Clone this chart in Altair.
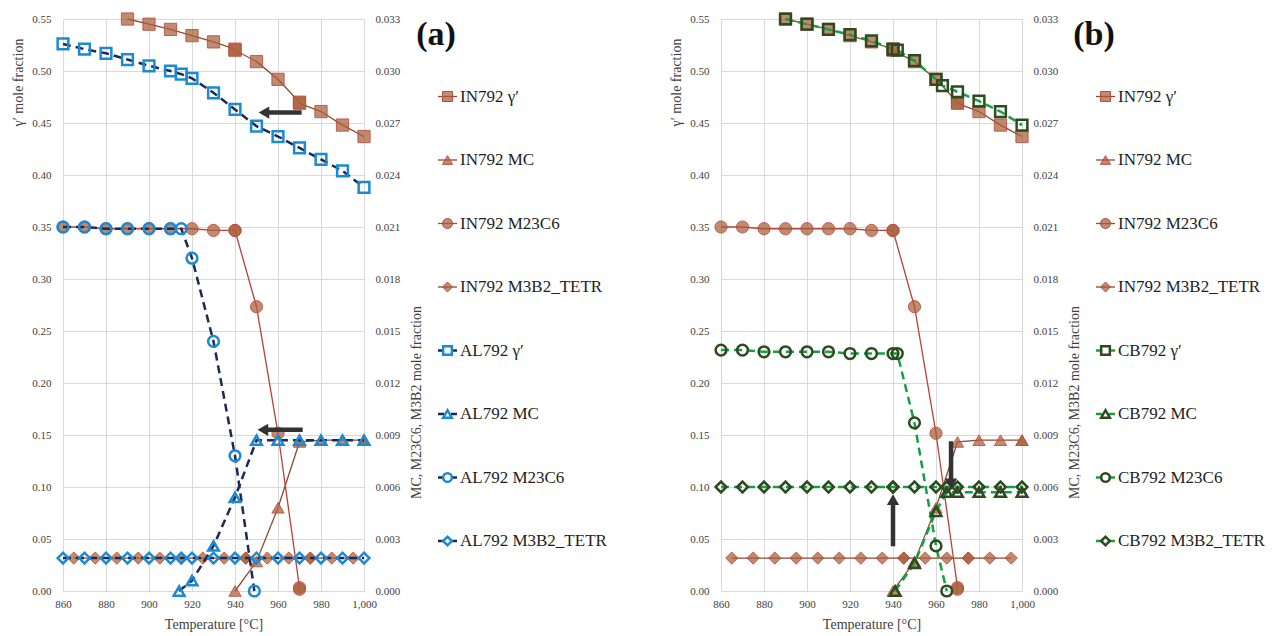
import altair as alt
import pandas as pd

FONT = "Liberation Serif"

# ---------------- axis ticks ----------------
TEMP_TICKS = [860, 880, 900, 920, 940, 960, 980, 1000]
LEFT_TICKS = [0.00, 0.05, 0.10, 0.15, 0.20, 0.25, 0.30, 0.35, 0.40, 0.45, 0.50, 0.55]
RIGHT_TICKS = [0.000, 0.003, 0.006, 0.009, 0.012, 0.015, 0.018, 0.021, 0.024, 0.027, 0.030, 0.033]

PHASES = ["γ′", "MC", "M23C6", "M3B2_TETR"]

# ---------------- IN792 (both panels) ----------------
IN_GP_T = [890, 900, 910, 920, 930, 940, 940, 950, 960, 970, 970, 980, 990, 1000]
IN_GP_V = [0.550, 0.545, 0.540, 0.534, 0.528, 0.521, 0.520, 0.509, 0.492, 0.470, 0.469, 0.461, 0.448, 0.437]
IN_MC_T = [940, 950, 960, 970, 980, 990, 1000, 1000]
IN_MC_V = [0.0000, 0.0017, 0.0048, 0.0086, 0.0087, 0.0087, 0.0087, 0.0087]
IN_M23_T = [860, 870, 880, 890, 900, 910, 920, 930, 940, 940, 950, 960, 970, 970]
IN_M23_V = [0.0210, 0.0210, 0.0209, 0.0209, 0.0209, 0.0209, 0.0209, 0.0208, 0.0208, 0.0208, 0.0164, 0.0091, 0.0002, 0.0001]
IN_M3B2_T = [865, 875, 885, 895, 905, 915, 925, 935, 945, 945, 955, 965, 975, 975, 985, 995]
IN_M3B2_V = [0.0019, 0.0019, 0.0019, 0.0019, 0.0019, 0.0019, 0.0019, 0.0019,
             0.0019, 0.0019, 0.0019, 0.0019, 0.0019, 0.0019, 0.0019, 0.0019]

# ---------------- AL792 (panel a) ----------------
AL_GP_T = [860, 870, 880, 890, 900, 910, 915, 920, 930, 940, 950, 960, 970, 980, 990, 1000]
AL_GP_V = [0.526, 0.521, 0.517, 0.511, 0.505, 0.500, 0.497, 0.493, 0.479, 0.463, 0.447, 0.437, 0.426, 0.415, 0.404, 0.388]
AL_MC_T = [914, 920, 930, 940, 950, 960, 970, 980, 990, 1000]
AL_MC_V = [0.0000, 0.0006, 0.0026, 0.0054, 0.0087, 0.0087, 0.0087, 0.0087, 0.0087, 0.0087]
AL_M23_T = [860, 870, 880, 890, 900, 910, 915, 920, 930, 940, 949]
AL_M23_V = [0.0210, 0.0210, 0.0209, 0.0209, 0.0209, 0.0209, 0.0209, 0.0192, 0.0144, 0.0078, 0.0000]
AL_M3B2_T = [860, 870, 880, 890, 900, 910, 915, 920, 930, 940, 950, 960, 970, 980, 990, 1000]
AL_M3B2_V = [0.0019, 0.0019, 0.0019, 0.0019, 0.0019, 0.0019, 0.0019, 0.0019,
             0.0019, 0.0019, 0.0019, 0.0019, 0.0019, 0.0019, 0.0019, 0.0019]

# ---------------- CB792 (panel b) ----------------
CB_GP_T = [890, 900, 910, 920, 930, 940, 942, 950, 960, 963, 970, 980, 990, 1000]
CB_GP_V = [0.550, 0.545, 0.540, 0.535, 0.529, 0.521, 0.520, 0.510, 0.492, 0.486, 0.480, 0.471, 0.461, 0.448]
CB_MC_T = [941, 950, 960, 965, 970, 980, 990, 1000]
CB_MC_V = [0.0000, 0.0016, 0.0046, 0.0057, 0.0057, 0.0057, 0.0057, 0.0057]
CB_M23_T = [860, 870, 880, 890, 900, 910, 920, 930, 940, 942, 950, 960, 965]
CB_M23_V = [0.0139, 0.0139, 0.0138, 0.0138, 0.0138, 0.0138, 0.0137, 0.0137, 0.0137, 0.0137, 0.0097, 0.0026, 0.0000]
CB_M3B2_T = [860, 870, 880, 890, 900, 910, 920, 930, 940, 940, 950, 960, 965, 970, 980, 990, 1000]
CB_M3B2_V = [0.0060, 0.0060, 0.0060, 0.0060, 0.0060, 0.0060, 0.0060, 0.0060, 0.0060,
             0.0060, 0.0060, 0.0060, 0.0060, 0.0060, 0.0060, 0.0060, 0.0060]

# ---------------- arrows (left-axis units) ----------------
ARR_A_TAIL_T = [971, 971.5]
ARR_A_TAIL_V = [0.460, 0.155]
ARR_A_TIP_T = [951, 950.5]
ARR_A_TIP_V = [0.460, 0.155]
ARR_A_DIR = ["left", "left"]

ARR_B_TAIL_T = [940, 967]
ARR_B_TAIL_V = [0.043, 0.144]
ARR_B_TIP_T = [940, 967]
ARR_B_TIP_V = [0.093, 0.098]
ARR_B_DIR = ["up", "down"]

LEG_A_LABELS = ["IN792 γ′", "IN792 MC", "IN792 M23C6", "IN792 M3B2_TETR",
                "AL792 γ′", "AL792 MC", "AL792 M23C6", "AL792 M3B2_TETR"]
LEG_B_LABELS = ["IN792 γ′", "IN792 MC", "IN792 M23C6", "IN792 M3B2_TETR",
                "CB792 γ′", "CB792 MC", "CB792 M23C6", "CB792 M3B2_TETR"]

# ---------------- styles ----------------
W, H = 301, 572
IN_FILL = "#a8603a"
IN_EDGE = "#bf4a3c"
IN_LINE_COLORS = ["#8c4a2f", "#8c4a2f", "#b8413a", "#8c4a2f"]
AL_MARK = "#1a8ad6"
AL_LINE = "#1c2a52"
CB_MARK = "#2d4b1f"
CB_LINE = "#16a044"
ARROW = "#333333"

x_scale = alt.Scale(domain=[860, 1000], nice=False, zero=False)
x_axis = alt.Axis(values=TEMP_TICKS, format=",d", title="Temperature [°C]",
                  labelPadding=7, titlePadding=8, grid=True, labelFlush=False)
left_scale = alt.Scale(domain=[0, 0.55], nice=False, zero=False)
left_axis = alt.Axis(values=LEFT_TICKS, format=".2f", title="γ′ mole fraction", orient="left",
                     labelPadding=12, titleAngle=270, titleX=-45, titleY=63,
                     titleAlign="center", titleBaseline="middle", grid=True)
right_scale = alt.Scale(domain=[0, 0.033], nice=False, zero=False)
right_axis = alt.Axis(values=RIGHT_TICKS, format=".3f", title="MC, M23C6, M3B2 mole fraction",
                      orient="right", labelPadding=11, titleAngle=270, titleX=52, titleY=383,
                      titleAlign="center", titleBaseline="middle", grid=False)
shape_enc = alt.Shape("phase:N", scale=alt.Scale(domain=PHASES,
                      range=["square", "triangle-up", "circle", "diamond"]), legend=None)
in_color = alt.Color("phase:N", scale=alt.Scale(domain=PHASES, range=IN_LINE_COLORS), legend=None)

LEG_TOP, LEG_STEP = 14, 63.5
leg_a = -LEG_TOP / LEG_STEP
leg_scale = alt.Scale(domain=[leg_a, leg_a + H / LEG_STEP], reverse=True, nice=False, zero=False)


def frame(phase, T, V):
    return pd.DataFrame({"phase": phase, "T": T, "v": V})


def X(field="T"):
    return alt.X(f"{field}:Q", scale=x_scale, axis=x_axis)


def series_layers(df, yscale, yaxis, is_in, mark_color=None, line_color=None):
    y = alt.Y("v:Q", scale=yscale, axis=yaxis)
    if is_in:
        line = alt.Chart(df).mark_line(strokeWidth=1.3).encode(x=X(), y=y, color=in_color)
        pts = alt.Chart(df).mark_point(filled=True, fill=IN_FILL, fillOpacity=0.72, stroke=IN_EDGE,
                                       strokeWidth=1, strokeOpacity=0.85, size=150).encode(
            x=X(), y=y, shape=shape_enc)
    else:
        line = alt.Chart(df).mark_line(color=line_color, strokeWidth=2.5, strokeDash=[8, 5]).encode(
            x=X(), y=y, detail="phase:N")
        pts = alt.Chart(df).mark_point(filled=False, color=mark_color, strokeWidth=2.5,
                                       opacity=1, size=115).encode(x=X(), y=y, shape=shape_enc)
    return [line, pts]


def arrow_layers(tail_t, tail_v, tip_t, tip_v, dirs):
    df = pd.DataFrame({"t0": tail_t, "v0": tail_v, "t1": tip_t, "v1": tip_v, "dir": dirs})
    layers = []
    ys = alt.Scale(domain=[0, 0.55], nice=False, zero=False)
    specs = {"left": ("triangle-left", dict(x2Offset=6), dict(xOffset=5.3)),
             "up": ("triangle-up", dict(y2Offset=6), dict(yOffset=5.3)),
             "down": ("triangle-down", dict(y2Offset=-6), dict(yOffset=-5.3))}
    for d in sorted(set(dirs)):
        shape, roff, poff = specs[d]
        sub = alt.Chart(df).transform_filter(alt.datum.dir == d)
        layers.append(sub.mark_rule(color=ARROW, strokeWidth=4.5, **roff).encode(
            x=X("t0"), x2="t1:Q",
            y=alt.Y("v0:Q", scale=ys, axis=None), y2="v1:Q"))
        layers.append(sub.mark_point(shape=shape, filled=True, color=ARROW, opacity=1, size=150, **poff).encode(
            x=X("t1"), y=alt.Y("v1:Q", scale=ys, axis=None)))
    return alt.layer(*layers)


def legend_layers(labels, tag, mark_color, line_color):
    df = pd.DataFrame({"idx": list(range(1, 9)), "label": labels,
                       "phase": PHASES + PHASES, "fam": ["IN"] * 4 + ["OT"] * 4})
    y = alt.Y("idx:Q", scale=leg_scale, axis=None)
    base = alt.Chart(df)
    inn = base.transform_filter(alt.datum.fam == "IN")
    oth = base.transform_filter(alt.datum.fam == "OT")
    layers = [
        inn.mark_rule(strokeWidth=1.3).encode(x=alt.value(375), x2=alt.value(394), y=y, color=in_color),
        oth.mark_rule(color=line_color, strokeWidth=2.5, strokeDash=[6, 7]).encode(
            x=alt.value(375), x2=alt.value(394), y=y),
        inn.mark_point(filled=True, fill=IN_FILL, fillOpacity=0.72, stroke=IN_EDGE, strokeWidth=1,
                       size=100).encode(x=alt.value(384.5), y=y, shape=shape_enc),
        oth.mark_point(filled=False, color=mark_color, strokeWidth=2.5, opacity=1, size=75).encode(
            x=alt.value(384.5), y=y, shape=shape_enc),
        base.mark_text(align="left", baseline="middle", font=FONT, fontSize=17, color="#1e1e1e").encode(
            x=alt.value(397), y=y, text="label:N"),
        alt.Chart(pd.DataFrame({"tag": [tag]})).mark_text(
            align="center", baseline="middle", font=FONT, fontSize=34, fontWeight="bold",
            color="#111111").encode(x=alt.value(373), y=alt.value(16), text="tag:N"),
    ]
    return alt.layer(*layers)


def panel(tag, oth_frames, mark_color, line_color, arrows, labels):
    in_gp = frame("γ′", IN_GP_T, IN_GP_V)
    in_rt = pd.concat([frame("MC", IN_MC_T, IN_MC_V), frame("M23C6", IN_M23_T, IN_M23_V),
                       frame("M3B2_TETR", IN_M3B2_T, IN_M3B2_V)])
    ot_gp, ot_rt = oth_frames
    left = alt.layer(*(series_layers(in_gp, left_scale, left_axis, True)
                       + series_layers(ot_gp, left_scale, left_axis, False, mark_color, line_color)))
    right = alt.layer(*(series_layers(in_rt, right_scale, right_axis, True)
                        + series_layers(ot_rt, right_scale, right_axis, False, mark_color, line_color)))
    arr = arrow_layers(*arrows)
    leg = legend_layers(labels, tag, mark_color, line_color)
    return alt.layer(left, right, arr, leg).resolve_scale(y="independent").properties(width=W, height=H)


al_frames = (frame("γ′", AL_GP_T, AL_GP_V),
             pd.concat([frame("MC", AL_MC_T, AL_MC_V), frame("M23C6", AL_M23_T, AL_M23_V),
                        frame("M3B2_TETR", AL_M3B2_T, AL_M3B2_V)]))
cb_frames = (frame("γ′", CB_GP_T, CB_GP_V),
             pd.concat([frame("MC", CB_MC_T, CB_MC_V), frame("M23C6", CB_M23_T, CB_M23_V),
                        frame("M3B2_TETR", CB_M3B2_T, CB_M3B2_V)]))

pa = panel("(a)", al_frames, AL_MARK, AL_LINE,
           (ARR_A_TAIL_T, ARR_A_TAIL_V, ARR_A_TIP_T, ARR_A_TIP_V, ARR_A_DIR), LEG_A_LABELS)
pb = panel("(b)", cb_frames, CB_MARK, CB_LINE,
           (ARR_B_TAIL_T, ARR_B_TAIL_V, ARR_B_TIP_T, ARR_B_TIP_V, ARR_B_DIR), LEG_B_LABELS)

chart = alt.hconcat(pa, pb, spacing=60).properties(
    padding={"left": 10, "top": 8, "right": 0, "bottom": 0},
    background="white",
).configure_axis(
    labelFont=FONT, titleFont=FONT, labelColor="#404040", titleColor="#404040",
    labelFontSize=11, titleFontSize=14, titleFontWeight="normal",
    gridColor="#d9d9d9", gridWidth=1, domain=False, ticks=False, tickSize=0,
).configure_view(stroke="transparent")

chart.save("out.html", embed_options={"renderer": "svg", "actions": False})
